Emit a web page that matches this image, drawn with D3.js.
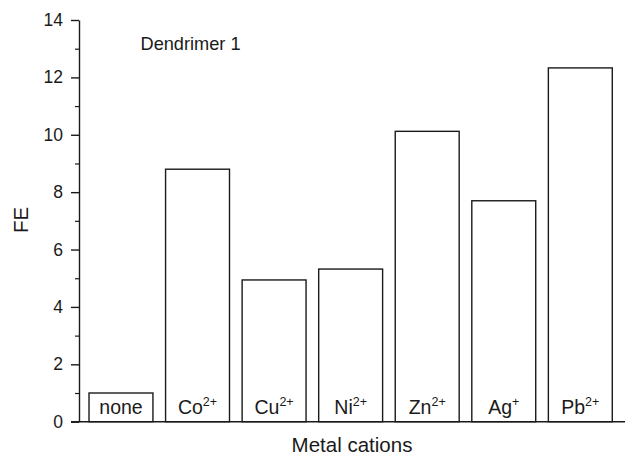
<!DOCTYPE html>
<html>
<head>
<meta charset="utf-8">
<script src="https://cdn.jsdelivr.net/npm/d3@7"></script>
<style>
  html, body { margin: 0; padding: 0; background: #fff; }
  svg { display: block; font-family: "Liberation Sans", Arial, sans-serif; }
</style>
</head>
<body>
<svg id="chart" width="625" height="454"></svg>
<script>
// Fluorescence enhancement (FE) of dendrimer 1 with different metal cations
const cations = ["none", "Co", "Cu", "Ni", "Zn", "Ag", "Pb"];
const charges = ["", "2+", "2+", "2+", "2+", "+", "2+"];
const feValues = [1.0, 8.8, 4.94, 5.32, 10.12, 7.7, 12.33];
const majorTicks = [0, 2, 4, 6, 8, 10, 12, 14];
const minorTicks = [1, 3, 5, 7, 9, 11, 13];

const svg = d3.select("#chart");
const ink = "#1a1a1a";

const y = d3.scaleLinear().domain([0, 14]).range([421.7, 20]);
const x = d3.scaleBand()
  .domain(cations)
  .range([82.7, 618.6])
  .paddingInner(0.165)
  .paddingOuter(0.0825);

const axisX = 79;

// Bars
svg.append("g")
  .selectAll("rect")
  .data(cations)
  .join("rect")
  .attr("x", d => x(d))
  .attr("width", x.bandwidth())
  .attr("y", (d, i) => y(feValues[i]))
  .attr("height", (d, i) => y(0) - y(feValues[i]))
  .attr("fill", "#fff")
  .attr("stroke", ink)
  .attr("stroke-width", 1.4);

// Labels inside bars, with the ion charge as superscript
const labels = svg.append("g")
  .selectAll("text")
  .data(cations)
  .join("text")
  .attr("x", d => x(d) + x.bandwidth() / 2)
  .attr("y", 414)
  .attr("text-anchor", "middle")
  .attr("font-size", 19.5)
  .attr("fill", ink);
labels.append("tspan").text(d => d);
labels.append("tspan")
  .attr("font-size", 12.5)
  .attr("dy", -8)
  .text((d, i) => charges[i]);

// Y axis: labelled major ticks and short minor ticks
const gy = svg.append("g")
  .attr("transform", `translate(${axisX},0)`)
  .call(d3.axisLeft(y).tickValues(majorTicks).tickSize(8).tickSizeOuter(0).tickPadding(8));
gy.select(".domain").attr("stroke", ink).attr("stroke-width", 1.4);
gy.selectAll(".tick line").attr("stroke", ink).attr("stroke-width", 1.4);
gy.selectAll(".tick text")
  .attr("font-size", 17.5)
  .attr("font-family", "Liberation Sans, Arial, sans-serif")
  .attr("fill", ink);

const gyMinor = svg.append("g")
  .attr("transform", `translate(${axisX},0)`)
  .call(d3.axisLeft(y).tickValues(minorTicks).tickSize(4).tickFormat(""));
gyMinor.select(".domain").remove();
gyMinor.selectAll(".tick line").attr("stroke", ink).attr("stroke-width", 1.2);

// Baseline along FE = 0
svg.append("line")
  .attr("x1", 71).attr("x2", 625)
  .attr("y1", y(0)).attr("y2", y(0))
  .attr("stroke", ink)
  .attr("stroke-width", 1.4);

// Axis titles and panel label
svg.append("text")
  .attr("x", 352).attr("y", 451.5)
  .attr("text-anchor", "middle")
  .attr("font-size", 20.5)
  .attr("fill", ink)
  .text("Metal cations");

svg.append("text")
  .attr("transform", "translate(27.5,220) rotate(-90)")
  .attr("text-anchor", "middle")
  .attr("font-size", 20.5)
  .attr("fill", ink)
  .text("FE");

svg.append("text")
  .attr("x", 140.5).attr("y", 50)
  .attr("font-size", 18.2)
  .attr("fill", ink)
  .text("Dendrimer 1");
</script>
</body>
</html>
